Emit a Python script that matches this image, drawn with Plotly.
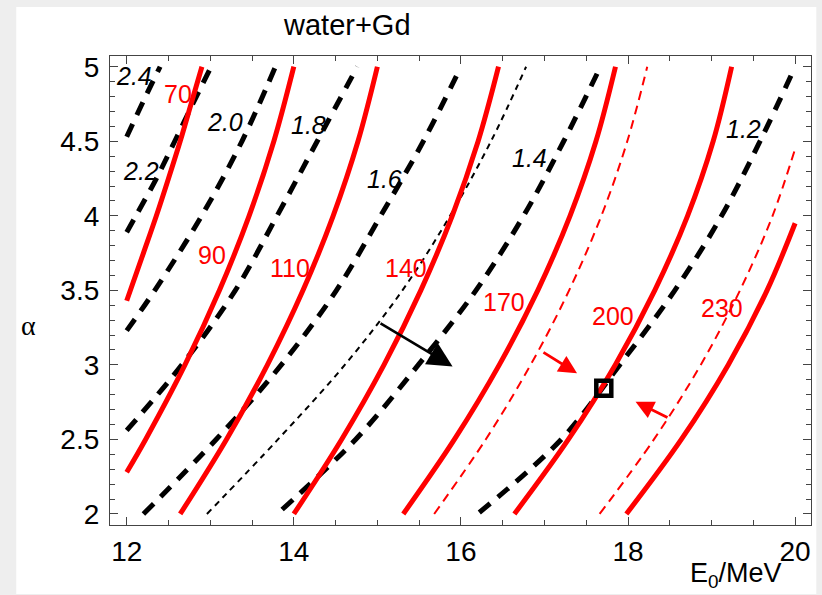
import plotly.graph_objects as go

# ---------------- data ----------------
# red solid curves (label, x list, y list)
red_labels = ["70", "90", "110", "140", "170", "200", "230"]
red_x = [
    [12.00, 12.20, 12.355, 12.50, 12.64, 12.77, 12.90],
    [12.00, 12.226, 12.697, 13.11, 13.465, 13.761, 14.00],
    [12.64, 13.194, 13.684, 14.11, 14.471, 14.768, 15.00],
    [14.00, 14.572, 15.079, 15.52, 15.896, 16.206, 16.45],
    [15.31, 15.922, 16.459, 16.92, 17.306, 17.616, 17.85],
    [16.64, 17.286, 17.847, 18.32, 18.713, 19.019, 19.24],
    [17.98, 18.638, 19.199, 19.664, 20.00],
]
red_y = [
    [3.43, 3.75, 4.00, 4.25, 4.50, 4.75, 5.00],
    [2.28, 2.50, 3.00, 3.50, 4.00, 4.50, 5.00],
    [2.00, 2.50, 3.00, 3.50, 4.00, 4.50, 5.00],
    [2.00, 2.50, 3.00, 3.50, 4.00, 4.50, 5.00],
    [2.00, 2.50, 3.00, 3.50, 4.00, 4.50, 5.00],
    [2.00, 2.50, 3.00, 3.50, 4.00, 4.50, 5.00],
    [2.00, 2.50, 3.00, 3.50, 3.95],
]
red_label_x = [12.61, 13.02, 13.95, 15.34, 16.51, 17.82, 19.13]
red_label_y = [4.82, 3.74, 3.65, 3.65, 3.42, 3.33, 3.38]

# thin red dashed curves
redd_x = [
    [15.68, 16.297, 16.834, 17.295, 17.681, 17.991, 18.23],
    [17.66, 18.31, 18.87, 19.34, 19.73, 20.00],
]
redd_y = [
    [2.00, 2.50, 3.00, 3.50, 4.00, 4.50, 5.00],
    [2.00, 2.50, 3.00, 3.50, 4.00, 4.45],
]

# black thick dashed curves
blk_labels = ["2.4", "2.2", "2.0", "1.8", "1.6", "1.4", "1.2"]
blk_x = [
    [12.00, 12.20, 12.40],
    [12.00, 12.11, 12.355, 12.575, 12.79, 13.01],
    [12.00, 12.336, 12.897, 13.379, 13.78],
    [12.00, 12.66, 13.30, 13.80, 14.28, 14.76],
    [12.20, 13.07, 13.85, 14.51, 15.04, 15.55, 16.00],
    [13.86, 14.74, 15.49, 16.18, 16.75, 17.23, 17.67],
    [16.22, 17.20, 17.90, 18.56, 19.12, 19.58, 20.00],
]
blk_y = [
    [4.53, 4.77, 5.00],
    [3.89, 4.00, 4.25, 4.50, 4.75, 5.00],
    [3.23, 3.50, 4.00, 4.50, 5.00],
    [2.56, 3.00, 3.50, 4.00, 4.50, 5.00],
    [2.00, 2.50, 3.00, 3.50, 4.00, 4.50, 5.00],
    [2.03, 2.50, 3.00, 3.50, 4.00, 4.50, 5.00],
    [2.01, 2.50, 3.00, 3.50, 4.00, 4.50, 5.00],
]
blk_label_x = [12.09, 12.17, 13.18, 14.17, 15.08, 16.82, 19.38]
blk_label_y = [4.94, 4.30, 4.63, 4.61, 4.25, 4.39, 4.58]

# thin black dashed curve
thin_x = [12.96, 13.81, 14.61, 15.30, 15.87, 16.36, 16.78]
thin_y = [2.00, 2.50, 3.00, 3.50, 4.00, 4.50, 5.00]

# arrows: (tail x, tail y, head x, head y)
black_arrow = [15.02, 3.285, 15.90, 2.99]
red_arrows = [[16.97, 3.09, 17.39, 2.944], [18.49, 2.642, 18.09, 2.753]]

# marked point
point_x = [17.71]
point_y = [2.843]

x_ticks = [12, 14, 16, 18, 20]
y_ticks = [2, 2.5, 3, 3.5, 4, 4.5, 5]

# ---------------- figure ----------------
FONT = "Liberation Sans, Arial, sans-serif"
fig = go.Figure()

for xs, ys in zip(blk_x, blk_y):
    fig.add_trace(go.Scatter(x=xs, y=ys, mode="lines", line_shape="spline",
                             line=dict(color="black", width=5, dash="14px,10px"),
                             hoverinfo="skip", showlegend=False))
fig.add_trace(go.Scatter(x=thin_x, y=thin_y, mode="lines", line_shape="spline",
                         line=dict(color="black", width=2, dash="6px,5px"),
                         hoverinfo="skip", showlegend=False))
for xs, ys in zip(redd_x, redd_y):
    fig.add_trace(go.Scatter(x=xs, y=ys, mode="lines", line_shape="spline",
                             line=dict(color="#ff0000", width=2, dash="9px,6px"),
                             hoverinfo="skip", showlegend=False))
for xs, ys in zip(red_x, red_y):
    fig.add_trace(go.Scatter(x=xs, y=ys, mode="lines", line_shape="spline",
                             line=dict(color="#ff0000", width=5),
                             hoverinfo="skip", showlegend=False))

fig.add_trace(go.Scatter(x=point_x, y=point_y, mode="markers",
                         marker=dict(symbol="square-open", size=15, color="black",
                                     line=dict(color="black", width=4.5)),
                         hoverinfo="skip", showlegend=False))

ann = []
for t, x, y in zip(red_labels, red_label_x, red_label_y):
    ann.append(dict(x=x, y=y, xref="x", yref="y", text=t, showarrow=False,
                    font=dict(family=FONT, size=25, color="#ff0000")))
for t, x, y in zip(blk_labels, blk_label_x, blk_label_y):
    ann.append(dict(x=x, y=y, xref="x", yref="y", text="<i>" + t + "</i>", showarrow=False,
                    font=dict(family=FONT, size=25, color="black")))

ann.append(dict(x=black_arrow[2], y=black_arrow[3], ax=black_arrow[0], ay=black_arrow[1],
                xref="x", yref="y", axref="x", ayref="y", text="", showarrow=True,
                arrowhead=2, arrowsize=1.9, arrowwidth=2.6, arrowcolor="black"))
for a in red_arrows:
    ann.append(dict(x=a[2], y=a[3], ax=a[0], ay=a[1],
                    xref="x", yref="y", axref="x", ayref="y", text="", showarrow=True,
                    arrowhead=2, arrowsize=1.3, arrowwidth=2.8, arrowcolor="#ff0000"))

# geometry of plot area in pixels
L, R, T, B = 110, 9.3, 56, 70
W, H = 822, 595
pw, ph = W - L - R, H - T - B

def px(xp):
    return (xp - L) / pw

def py(yp):
    return (H - B - yp) / ph

ann.append(dict(x=px(347.5), y=py(25), xref="paper", yref="paper", text="water+Gd",
                showarrow=False, xanchor="center", yanchor="middle",
                font=dict(family=FONT, size=29, color="black")))
ann.append(dict(x=px(28), y=py(325), xref="paper", yref="paper", text="α",
                showarrow=False, xanchor="center", yanchor="middle",
                font=dict(family="Liberation Serif, serif", size=28, color="black")))
ann.append(dict(x=px(738), y=py(575), xref="paper", yref="paper", text="E<sub>0</sub>/MeV",
                showarrow=False, xanchor="center", yanchor="middle",
                font=dict(family=FONT, size=27, color="black")))

fig.update_layout(
    width=W, height=H,
    margin=dict(l=L, r=R, t=T, b=B, pad=0),
    paper_bgcolor="#eeeeee", plot_bgcolor="white",
    annotations=ann,
    shapes=[dict(type="rect", xref="paper", yref="paper", layer="below",
                 x0=px(16), x1=px(818), y0=py(594), y1=py(7),
                 fillcolor="white", line=dict(width=0))],
)
axis_common = dict(showgrid=False, zeroline=False, showline=True, linecolor="#444444",
                   linewidth=1.3, mirror="ticks", ticks="inside", ticklen=8, tickwidth=1.2,
                   tickcolor="#444444",
                   tickfont=dict(family=FONT, size=28, color="black"))
fig.update_xaxes(range=[11.80, 20.19], tickvals=x_ticks, ticklabelstandoff=1,
                 minor=dict(dtick=0.5, ticks="inside", ticklen=5, tickcolor="#444444", tickwidth=1),
                 **axis_common)
fig.update_yaxes(range=[1.926, 5.072], tickvals=y_ticks, ticklabelstandoff=4,
                 minor=dict(dtick=0.1, ticks="inside", ticklen=5, tickcolor="#444444", tickwidth=1),
                 **axis_common)

fig.write_html("out.html")
